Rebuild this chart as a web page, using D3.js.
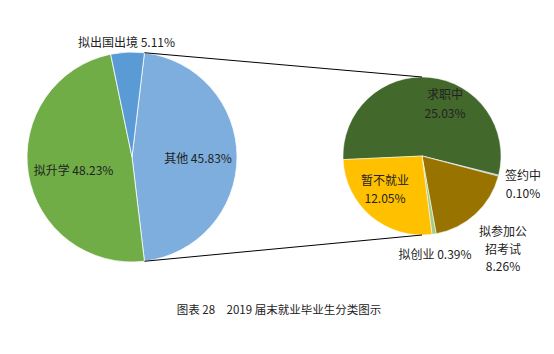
<!DOCTYPE html>
<html>
<head>
<meta charset="utf-8">
<script src="https://cdn.jsdelivr.net/npm/d3@7"></script>
<style>
  body { margin: 0; background: #fff; }
  text { font-family: "Noto Sans CJK SC", "Noto Sans", sans-serif; }
</style>
</head>
<body>
<div id="chart"></div>
<script>
// main pie
var mainNames = ["其他", "拟升学", "拟出国出境"];
var mainValues = [45.83, 48.23, 5.11];
var mainColors = ["#7DAEDE", "#70AD47", "#5B9BD5"];

// breakdown of "其他"
var subNames = ["求职中", "签约中", "拟参加公招考试", "拟创业", "暂不就业"];
var subValues = [25.03, 0.10, 8.26, 0.39, 12.05];
var subColors = ["#43682B", "#698ED0", "#997300", "#A2CC84", "#FFC000"];

var width = 554, height = 354;

var svg = d3.select("#chart")
  .append("svg")
  .attr("width", width)
  .attr("height", height);

var deg = Math.PI / 180;

// left pie
var c1 = {x: 132, y: 157, r: 105};
var mainTotal = d3.sum(mainValues);
var otherSpan = mainValues[0] / mainTotal * 2 * Math.PI;
var pie1 = d3.pie().sort(null)
  .startAngle(Math.PI / 2 - otherSpan / 2)
  .endAngle(Math.PI / 2 - otherSpan / 2 + 2 * Math.PI);
var arcs1 = pie1(mainValues);
var arc1 = d3.arc().innerRadius(0).outerRadius(c1.r);

var g1 = svg.append("g").attr("transform", "translate(" + c1.x + "," + c1.y + ")");
g1.selectAll("path")
  .data(arcs1)
  .enter()
  .append("path")
    .attr("d", arc1)
    .attr("fill", function(d, i) { return mainColors[i]; })
    .attr("stroke", "#fff")
    .attr("stroke-width", 0.75);

// right pie
var c2 = {x: 422, y: 156, r: 79};
var pie2 = d3.pie().sort(null)
  .startAngle(-92.6 * deg)
  .endAngle(-92.6 * deg + 2 * Math.PI);
var arcs2 = pie2(subValues);
var arc2 = d3.arc().innerRadius(0).outerRadius(c2.r);

var g2 = svg.append("g").attr("transform", "translate(" + c2.x + "," + c2.y + ")");
g2.selectAll("path")
  .data(arcs2)
  .enter()
  .append("path")
    .attr("d", arc2)
    .attr("fill", function(d, i) { return subColors[i]; })
    .attr("stroke", "#fff")
    .attr("stroke-width", 0.5);

// connector lines from "其他" slice edges to the second pie
function edge(c, a) {
  return [c.x + c.r * Math.sin(a), c.y - c.r * Math.cos(a)];
}
var pTop = edge(c1, arcs1[0].startAngle),
    pBot = edge(c1, arcs1[0].endAngle);
[[pTop, [c2.x, c2.y - c2.r]], [pBot, [c2.x, c2.y + c2.r]]].forEach(function(l) {
  svg.append("line")
    .attr("x1", l[0][0]).attr("y1", l[0][1])
    .attr("x2", l[1][0]).attr("y2", l[1][1])
    .attr("stroke", "#000")
    .attr("stroke-width", 1);
});

// labels (offsets from pie centre, one entry per text line)
var mainLabelPos = [[66, 0], [-58.5, 12], [-5.5, -116]];
var subLabelPos = [
  [[23, -63], [23, -44]],
  [[101, 18], [101, 36]],
  [[81, 74], [81, 92], [81, 109]],
  [[13, 97]],
  [[-37, 23], [-37, 41]]
];

function label(g, x, y, t) {
  g.append("text")
    .attr("x", x).attr("y", y)
    .attr("text-anchor", "middle")
    .attr("dominant-baseline", "central")
    .attr("font-size", 12)
    .attr("fill", "#222")
    .text(t);
}

mainNames.forEach(function(n, i) {
  label(g1, mainLabelPos[i][0], mainLabelPos[i][1], n + " " + mainValues[i].toFixed(2) + "%");
});

subNames.forEach(function(n, i) {
  var pct = subValues[i].toFixed(2) + "%";
  var lines;
  if (i == 2) lines = ["拟参加公", "招考试", pct];
  else if (i == 3) lines = [n + " " + pct];
  else lines = [n, pct];
  lines.forEach(function(t, j) {
    label(g2, subLabelPos[i][j][0], subLabelPos[i][j][1], t);
  });
});

// caption
svg.append("text")
  .attr("x", 279).attr("y", 309)
  .attr("text-anchor", "middle")
  .attr("dominant-baseline", "central")
  .attr("font-size", 11.5)
  .attr("font-family", "'Liberation Serif', 'Noto Sans CJK SC', serif")
  .attr("fill", "#222")
  .text("图表 28　2019 届末就业毕业生分类图示");
</script>
</body>
</html>
